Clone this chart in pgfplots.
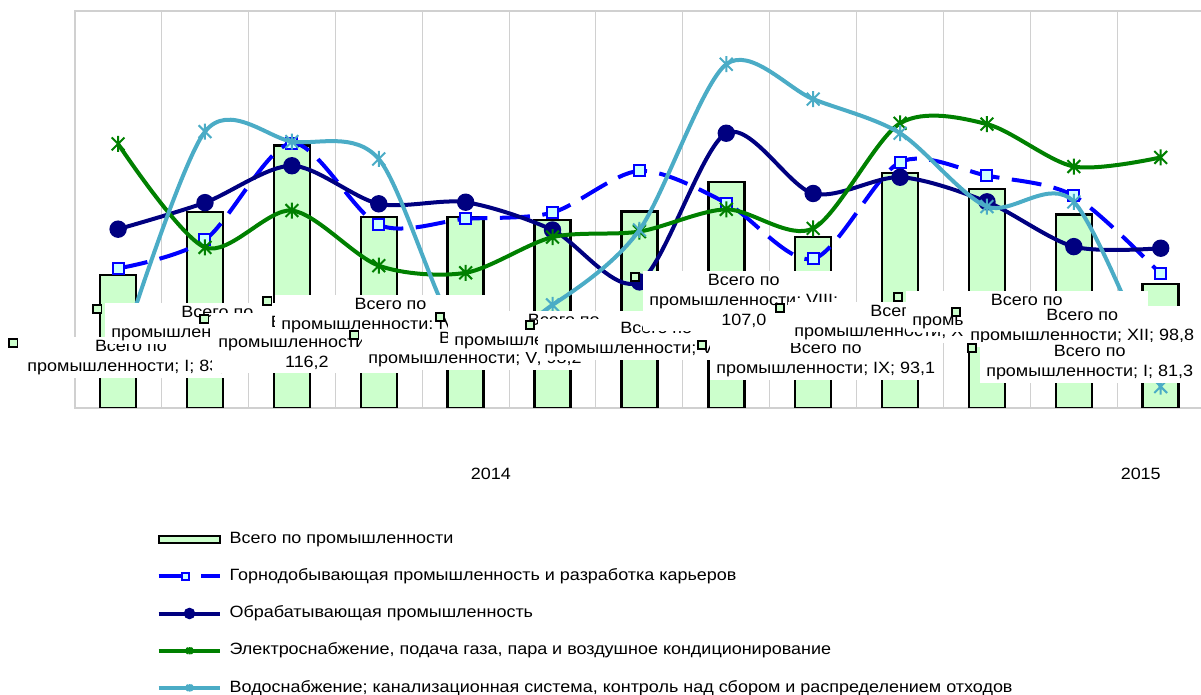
\documentclass[border=0pt]{standalone}
\usepackage{fontspec}
\setmainfont{Liberation Sans}[FakeStretch=1.1]
\usepackage{pgfplots}
\pgfplotsset{compat=1.18}
\definecolor{barfill}{RGB}{204,255,204}
\definecolor{mining}{RGB}{0,0,255}
\definecolor{minfill}{RGB}{204,255,255}
\definecolor{manuf}{RGB}{0,0,128}
\definecolor{elec}{RGB}{0,128,0}
\definecolor{water}{RGB}{75,172,198}
\definecolor{gridgray}{RGB}{208,208,208}
\pgfdeclareplotmark{xstar}{%
  \pgfpathmoveto{\pgfqpoint{0pt}{\pgfplotmarksize}}%
  \pgfpathlineto{\pgfqpoint{0pt}{-\pgfplotmarksize}}%
  \pgfpathmoveto{\pgfqpoint{-0.8\pgfplotmarksize}{0.8\pgfplotmarksize}}%
  \pgfpathlineto{\pgfqpoint{0.8\pgfplotmarksize}{-0.8\pgfplotmarksize}}%
  \pgfpathmoveto{\pgfqpoint{-0.8\pgfplotmarksize}{-0.8\pgfplotmarksize}}%
  \pgfpathlineto{\pgfqpoint{0.8\pgfplotmarksize}{0.8\pgfplotmarksize}}%
  \pgfusepathqstroke}
\newcommand{\lfont}{\fontsize{9.8pt}{12pt}\selectfont}
\tikzset{
  lab/.style={fill=white, align=center, inner xsep=4pt, inner ysep=2pt, font=\lfont, anchor=north west, xshift=4.4pt, yshift=4pt},
  keybox/.style={draw=black, fill=barfill, line width=1.1pt, minimum size=5.2pt, inner sep=0pt},
}
\pgfplotsset{
  lineleg/.style={legend image code/.code={\draw[mark repeat=2,mark phase=2,##1,mark size=2.2pt] plot coordinates {(0pt,0pt) (18.5pt,0pt) (37pt,0pt)};}},
  minleg/.style={legend image code/.code={\draw[mark repeat=2,mark phase=2,##1,mark size=2.2pt] plot coordinates {(0pt,0pt) (16pt,0pt) (37pt,0pt)};}},
  barleg/.style={legend image code/.code={\draw[fill=barfill,draw=black,line width=1.2pt] (0pt,-2.1pt) rectangle (37pt,2.1pt);}},
}
\newcommand{\dlab}[3]{\node[lab] at (axis cs:#1,#2) {#3}; \node[keybox] at (axis cs:#1,#2) {};}
\begin{document}
\lfont
\begin{tikzpicture}
\useasboundingbox (-44.8pt,-172.2pt) rectangle (675.8pt,244.8pt);
\begin{axis}[
  scale only axis, width=677.7pt, height=237.9pt,
  xmin=-0.5, xmax=12.5, ymin=50, ymax=150,
  axis line style={draw=gridgray, line width=1.2pt},
  ytick=\empty,
  xtick={4.29,11.77}, xticklabels={2014,2015},
  major tick length=0pt, minor tick length=0pt,
  minor xtick={0.5,1.5,...,11.5},
  xminorgrids=true,
  minor grid style={draw=gridgray, line width=0.6pt},
  xticklabel style={yshift=-32.5pt, font=\lfont},
  clip mode=individual,
  legend cell align=left,
  legend style={at={(axis description cs:0,0)}, anchor=north west, xshift=49pt, yshift=-74pt,
    draw=none, fill=none, inner sep=0pt, row sep=13.3pt, column sep=4.4pt,
    font=\lfont, nodes={inner sep=0pt, text height=7pt, text depth=2pt}},
  lineleg,
]
\addplot[ybar, bar width=21.6pt, fill=barfill, draw=black, line width=1.5pt, barleg]
  coordinates {(0,83.5) (1,99.4) (2,116.2) (3,98.2) (4,98.2) (5,97.4) (6,99.5) (7,107.0) (8,93.1) (9,109.3) (10,105.2) (11,98.8) (12,81.3)};
\addlegendentry{Всего по промышленности}
\addplot[smooth, mining, line width=2.4pt, dash pattern=on 18pt off 7.5pt, mark=square*, mark size=3.3pt,
  mark options={solid, fill=minfill, draw=mining, line width=1.2pt}, minleg]
  coordinates {(0,85.2) (1,92.4) (2,116.8) (3,96.2) (4,97.7) (5,99.3) (6,109.8) (7,101.7) (8,87.6) (9,112.0) (10,108.6) (11,103.5) (12,83.8)};
\addlegendentry{Горнодобывающая промышленность и разработка карьеров}
\addplot[smooth, manuf, line width=2.4pt, mark=*, mark size=4pt, mark options={fill=manuf, draw=manuf}]
  coordinates {(0,95.1) (1,101.8) (2,111.1) (3,101.5) (4,101.9) (5,94.9) (6,81.8) (7,119.3) (8,104.1) (9,108.2) (10,102.0) (11,90.7) (12,90.3)};
\addlegendentry{Обрабатывающая промышленность}
\addplot[smooth, elec, line width=2.4pt, mark=xstar, mark size=4.8pt, mark options={line width=1.2pt}]
  coordinates {(0,116.6) (1,90.5) (2,99.8) (3,85.9) (4,84.1) (5,93.1) (6,94.5) (7,100.1) (8,95.3) (9,121.8) (10,121.6) (11,110.9) (12,113.2)};
\addlegendentry{Электроснабжение, подача газа, пара и воздушное кондиционирование}
\addplot[smooth, water, line width=2.4pt, mark=xstar, mark size=4.8pt, mark options={line width=1.2pt}]
  coordinates {(0,62.1) (1,119.7) (2,117.2) (3,112.8) (4,66.0) (5,76.0) (6,94.9) (7,136.7) (8,127.9) (9,119.3) (10,100.8) (11,102.0) (12,55.4)};
\addlegendentry{Водоснабжение; канализационная система, контроль над сбором и распределением отходов}
\dlab{-1.208}{66.39}{Всего по\\промышленности; I; 83,5}
\dlab{-0.242}{74.97}{Всего по\\промышленности; II; 99,4}
\dlab{0.990}{72.45}{Всего по\\промышленности; III;\\116,2}
\dlab{1.715}{76.99}{Всего по\\промышленности; IV; 98,2}
\dlab{2.716}{68.41}{Всего по\\промышленности; V; 98,2}
\dlab{3.705}{72.95}{Всего по\\промышленности; VI; 97,4}
\dlab{4.741}{70.93}{Всего по\\промышленности; VII; 99,5}
\dlab{5.949}{83.04}{Всего по\\промышленности; VIII;\\107,0}
\dlab{6.720}{65.89}{Всего по\\промышленности; IX; 93,1}
\dlab{7.618}{75.22}{Всего по\\промышленности; X; 109,3}
\dlab{8.976}{78.00}{Всего по\\промышленности; XI; 105,2}
\dlab{9.643}{74.21}{Всего по\\промышленности; XII; 98,8}
\dlab{9.827}{65.13}{Всего по\\промышленности; I; 81,3}
\end{axis}
\end{tikzpicture}
\end{document}
